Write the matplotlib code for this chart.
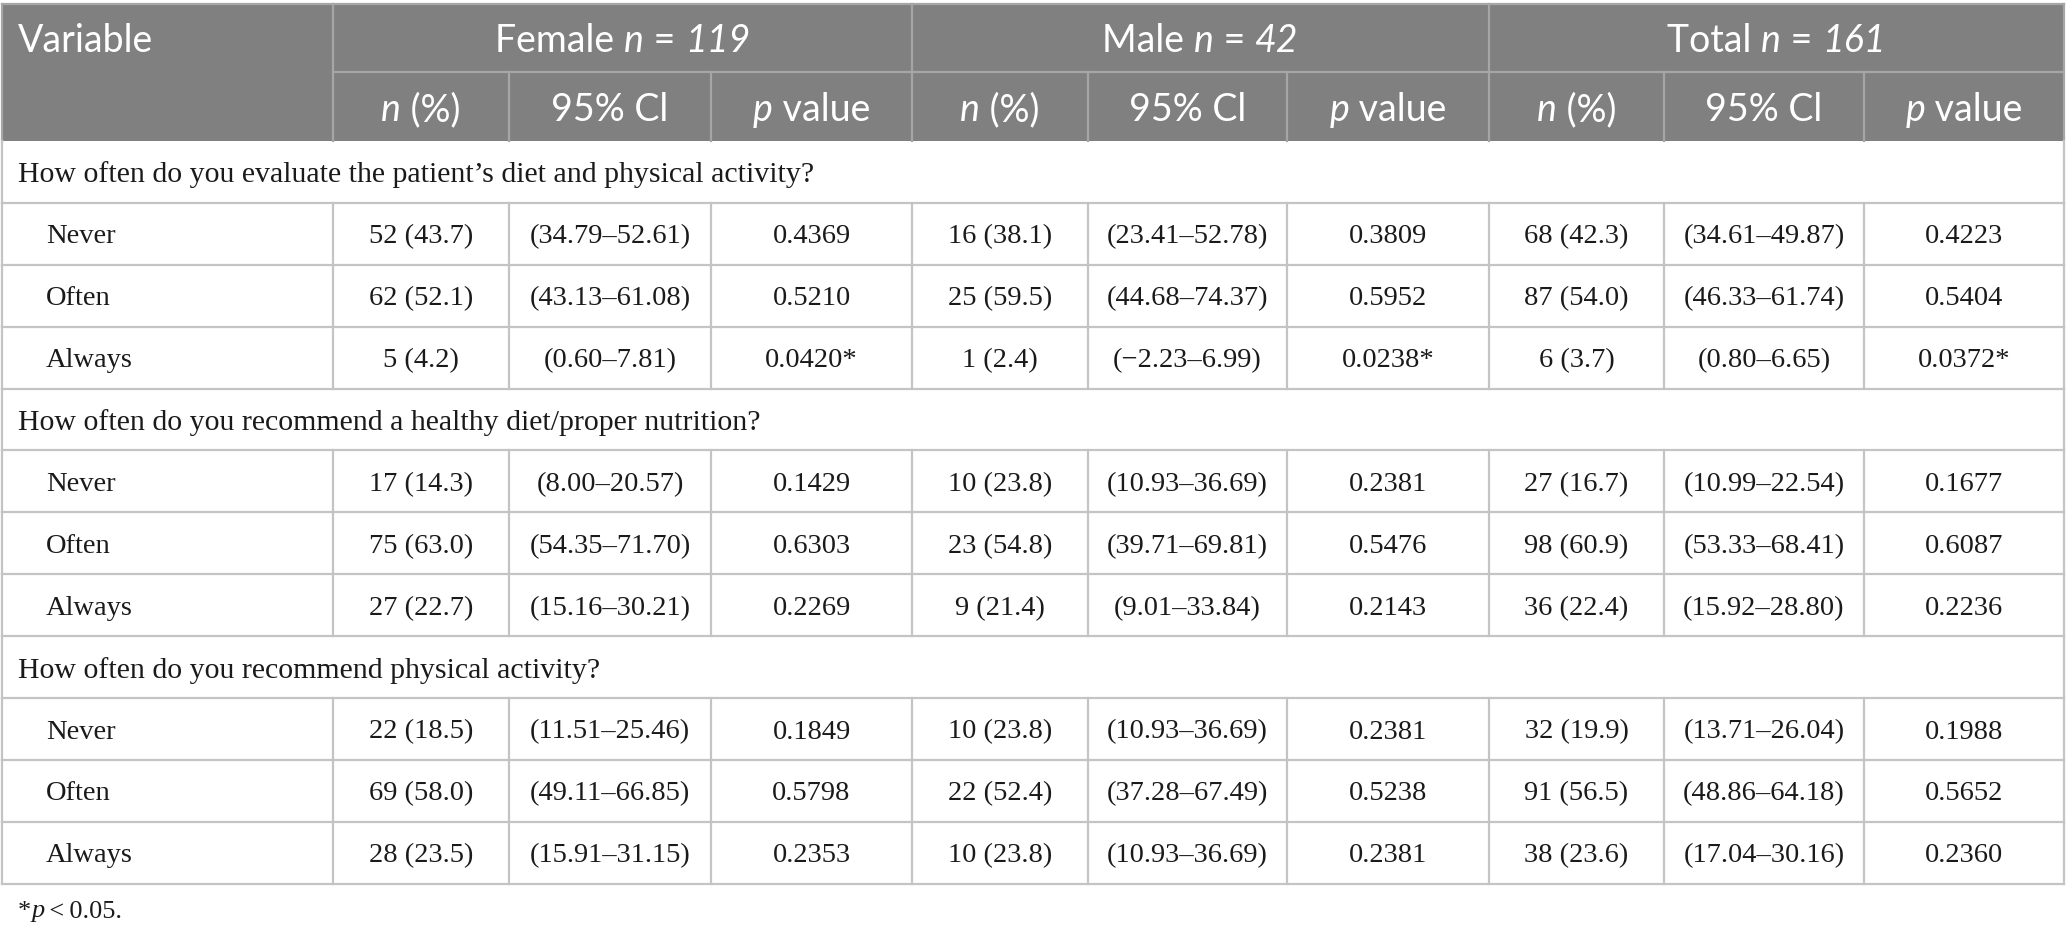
import matplotlib.pyplot as plt

# ---- data ----
questions = [
    "How often do you evaluate the patient\u2019s diet and physical activity?",
    "How often do you recommend a healthy diet/proper nutrition?",
    "How often do you recommend physical activity?",
]
answers = ["Never", "Often", "Always"]

groups = ["Female", "Male", "Total"]
group_n = [119, 42, 161]

female_counts = [52, 62, 5, 17, 75, 27, 22, 69, 28]
female_pct = [43.7, 52.1, 4.2, 14.3, 63.0, 22.7, 18.5, 58.0, 23.5]
female_ci_lo = [34.79, 43.13, 0.60, 8.00, 54.35, 15.16, 11.51, 49.11, 15.91]
female_ci_hi = [52.61, 61.08, 7.81, 20.57, 71.70, 30.21, 25.46, 66.85, 31.15]
female_p = [0.4369, 0.5210, 0.0420, 0.1429, 0.6303, 0.2269, 0.1849, 0.5798, 0.2353]

male_counts = [16, 25, 1, 10, 23, 9, 10, 22, 10]
male_pct = [38.1, 59.5, 2.4, 23.8, 54.8, 21.4, 23.8, 52.4, 23.8]
male_ci_lo = [23.41, 44.68, -2.23, 10.93, 39.71, 9.01, 10.93, 37.28, 10.93]
male_ci_hi = [52.78, 74.37, 6.99, 36.69, 69.81, 33.84, 36.69, 67.49, 36.69]
male_p = [0.3809, 0.5952, 0.0238, 0.2381, 0.5476, 0.2143, 0.2381, 0.5238, 0.2381]

total_counts = [68, 87, 6, 27, 98, 36, 32, 91, 38]
total_pct = [42.3, 54.0, 3.7, 16.7, 60.9, 22.4, 19.9, 56.5, 23.6]
total_ci_lo = [34.61, 46.33, 0.80, 10.99, 53.33, 15.92, 13.71, 48.86, 17.04]
total_ci_hi = [49.87, 61.74, 6.65, 22.54, 68.41, 28.80, 26.04, 64.18, 30.16]
total_p = [0.4223, 0.5404, 0.0372, 0.1677, 0.6087, 0.2236, 0.1988, 0.5652, 0.2360]

# ---- layout (pixels) ----
W, H = 2066, 933
col_x = [2, 333, 509, 711, 912, 1088, 1287, 1489, 1664, 1864, 2064]
top = 4
head1 = 72
head2 = 141
row_h = 61.9

head_bg = "#808080"
head_line = "#a6a6a6"
body_line = "#c4c4c4"
sans = ["Lato", "DejaVu Sans"]
serif = ["Liberation Serif", "DejaVu Serif"]
head_size = 27
body_size = 20.5
question_size = 21.5

fig = plt.figure(figsize=(W / 100, H / 100), dpi=100)
ax = fig.add_axes([0, 0, 1, 1])
ax.set_xlim(0, W)
ax.set_ylim(H, 0)
ax.axis("off")
renderer = fig.canvas.get_renderer()


def rich_text(x, y, parts, ha="center", family=sans, size=head_size, color="white"):
    # parts: list of (text, italic?)
    arts = []
    widths = []
    for s, it in parts:
        t = ax.text(0, y, s, family=family, fontsize=size, color=color,
                    fontstyle="italic" if it else "normal",
                    va="center_baseline", ha="left")
        arts.append(t)
        widths.append(t.get_window_extent(renderer).width)
    total = sum(widths)
    start = x - total / 2 if ha == "center" else x
    for t, w in zip(arts, widths):
        t.set_x(start)
        start += w


def fmt_ci(lo, hi):
    a = f"{lo:.2f}".replace("-", "\u2212")
    return f"({a}\u2013{hi:.2f})"


def fmt_p(p):
    return f"{p:.4f}" + ("*" if p < 0.05 else "")


# ---- header ----
ax.add_patch(plt.Rectangle((col_x[0], top), col_x[-1] - col_x[0], head2 - top,
                           facecolor=head_bg, edgecolor="none"))
ax.plot([col_x[1], col_x[-1]], [head1, head1], color=head_line, lw=1.6)
for i, x in enumerate(col_x):
    if i in (0, 1, 4, 7, 10):
        ax.plot([x, x], [top, head2], color=head_line, lw=1.6)
    else:
        ax.plot([x, x], [head1, head2], color=head_line, lw=1.6)
ax.plot([col_x[0], col_x[-1]], [top, top], color=head_line, lw=1.6)

rich_text(18, (top + head1) / 2, [("Variable", False)], ha="left")
for g, (name, n) in enumerate(zip(groups, group_n)):
    cx = (col_x[1 + 3 * g] + col_x[4 + 3 * g]) / 2
    rich_text(cx, (top + head1) / 2, [(name + " ", False), ("n", True), (" = ", False), (str(n), True)])
    subs = [[("n", True), (" (%)", False)], [("95% Cl", False)], [("p", True), (" value", False)]]
    for k, parts in enumerate(subs):
        c = 1 + 3 * g + k
        rich_text((col_x[c] + col_x[c + 1]) / 2, (head1 + head2) / 2, parts)

# ---- body ----
series = [
    (female_counts, female_pct, female_ci_lo, female_ci_hi, female_p),
    (male_counts, male_pct, male_ci_lo, male_ci_hi, male_p),
    (total_counts, total_pct, total_ci_lo, total_ci_hi, total_p),
]

y = head2
idx = 0
for q in questions:
    # section row
    ax.text(18, y + row_h / 2, q, family=serif, fontsize=question_size, color="#1a1a1a",
            va="center_baseline", ha="left")
    ax.plot([col_x[0], col_x[0]], [y, y + row_h], color=body_line, lw=1.6)
    ax.plot([col_x[-1], col_x[-1]], [y, y + row_h], color=body_line, lw=1.6)
    y += row_h
    ax.plot([col_x[0], col_x[-1]], [y, y], color=body_line, lw=1.6)
    for a in answers:
        cy = y + row_h / 2
        ax.text(46, cy, a, family=serif, fontsize=body_size, color="#1a1a1a",
                va="center_baseline", ha="left")
        for g, (cnt, pct, lo, hi, p) in enumerate(series):
            cells = [f"{cnt[idx]} ({pct[idx]:.1f})", fmt_ci(lo[idx], hi[idx]), fmt_p(p[idx])]
            for k, s in enumerate(cells):
                c = 1 + 3 * g + k
                ax.text((col_x[c] + col_x[c + 1]) / 2, cy, s, family=serif, fontsize=body_size,
                        color="#1a1a1a", va="center_baseline", ha="center")
        for x in col_x:
            ax.plot([x, x], [y, y + row_h], color=body_line, lw=1.6)
        y += row_h
        ax.plot([col_x[0], col_x[-1]], [y, y], color=body_line, lw=1.6)
        idx += 1

# footnote
rich_text(18, 909, [("*", False), ("p", True), ("\u2009<\u20090.05.", False)], ha="left",
          family=serif, size=body_size - 1.5, color="#1a1a1a")

fig.savefig("out.png", dpi=100)
